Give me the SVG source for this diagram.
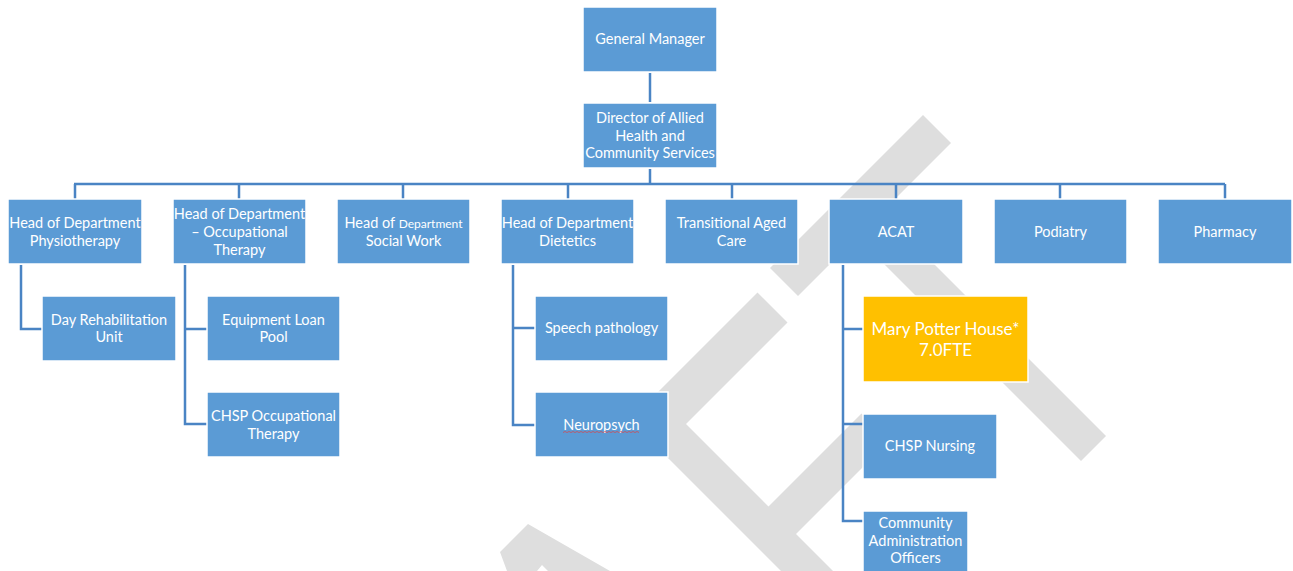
<svg xmlns="http://www.w3.org/2000/svg" width="1293" height="571" viewBox="0 0 1293 571">
<style>
.wm{fill:#dedede}
.box{fill:#5b9bd5;stroke:#ffffff;stroke-width:1.5}
.gold{fill:#ffc000;stroke:#ffffff;stroke-width:1.5}
.t{font-family:Lato,"Open Sans","Liberation Sans",sans-serif;font-size:14.5px;fill:#ffffff;text-anchor:middle}
.big{font-size:17px}
.sm{font-size:12px}
.con{fill:none;stroke:#4a84c4;stroke-width:2.5;stroke-linejoin:miter}
</style>
<rect width="1293" height="571" fill="#ffffff"/>
<g id="watermark">
<polygon class="wm" points="923,115 951,143 798,296 770,268"/>
<polygon class="wm" points="757.5,292.5 787.5,322.5 686,424 768.5,506.5 861.5,413.5 889,441 796,534 833,571 781,571 630,420"/>
<polygon class="wm" points="868,198 1106,436 1081,461 843,223"/>
<polygon class="wm" points="528,524 610,571 548,571 542,565 537,571 507,571 500,552"/>
</g>
<g id="connectors">
<path class="con" d="M650,73 V102"/>
<path class="con" d="M650,169 V184"/>
<path class="con" d="M74,184 H1225"/>
<path class="con" d="M75,184 V199 M239,184 V199 M403,184 V199 M568,184 V199 M732,184 V199 M896,184 V199 M1060,184 V199 M1225,184 V199"/>
<path class="con" d="M21,265 V329 H42"/>
<path class="con" d="M185,265 V424 H207 M185,329 H207"/>
<path class="con" d="M513,265 V425 H535 M513,328 H535"/>
<path class="con" d="M843,265 V521 H863 M843,329 H863 M843,424 H863"/>
</g>
<g id="general-manager">
<rect class="box" x="583" y="7" width="134" height="65"/>
<text class="t" x="650" y="44">General Manager</text>
</g>
<g id="director">
<rect class="box" x="583" y="103" width="134" height="65"/>
<text class="t" x="650" y="123">Director of Allied</text>
<text class="t" x="650" y="141">Health and</text>
<text class="t" x="650" y="158">Community Services</text>
</g>
<g id="hod-physio">
<rect class="box" x="8" y="199" width="134" height="65"/>
<text class="t" x="75" y="228">Head of Department</text>
<text class="t" x="75" y="246">Physiotherapy</text>
</g>
<g id="hod-ot">
<rect class="box" x="173" y="199" width="133" height="65"/>
<text class="t" x="239.5" y="219">Head of Department</text>
<text class="t" x="239.5" y="237">– Occupational</text>
<text class="t" x="239.5" y="255">Therapy</text>
</g>
<g id="hod-social-work">
<rect class="box" x="337" y="199" width="133" height="65"/>
<text class="t" x="403.5" y="228">Head of <tspan class="sm">Department</tspan></text>
<text class="t" x="403.5" y="246">Social Work</text>
</g>
<g id="hod-dietetics">
<rect class="box" x="501" y="199" width="133" height="65"/>
<text class="t" x="567.5" y="228">Head of Department</text>
<text class="t" x="567.5" y="246">Dietetics</text>
</g>
<g id="transitional-aged-care">
<rect class="box" x="665" y="199" width="133" height="65"/>
<text class="t" x="731.5" y="228">Transitional Aged</text>
<text class="t" x="731.5" y="246">Care</text>
</g>
<g id="acat">
<rect class="box" x="829" y="199" width="134" height="65"/>
<text class="t" x="896" y="237">ACAT</text>
</g>
<g id="podiatry">
<rect class="box" x="994" y="199" width="133" height="65"/>
<text class="t" x="1060.5" y="237">Podiatry</text>
</g>
<g id="pharmacy">
<rect class="box" x="1158" y="199" width="134" height="65"/>
<text class="t" x="1225" y="237">Pharmacy</text>
</g>
<g id="day-rehab">
<rect class="box" x="42" y="296" width="134" height="65"/>
<text class="t" x="109" y="325">Day Rehabilitation</text>
<text class="t" x="109" y="342">Unit</text>
</g>
<g id="equipment-loan-pool">
<rect class="box" x="207" y="296" width="133" height="65"/>
<text class="t" x="273.5" y="325">Equipment Loan</text>
<text class="t" x="273.5" y="342">Pool</text>
</g>
<g id="chsp-ot">
<rect class="box" x="207" y="392" width="133" height="65"/>
<text class="t" x="273.5" y="421">CHSP Occupational</text>
<text class="t" x="273.5" y="439">Therapy</text>
</g>
<g id="speech-pathology">
<rect class="box" x="535" y="296" width="133" height="65"/>
<text class="t" x="601.5" y="333">Speech pathology</text>
</g>
<g id="neuropsych">
<rect class="box" x="535" y="392" width="133" height="65"/>
<text class="t" x="601.5" y="430">Neuropsych</text>
<path d="M563,432.5 l2,-1 l2,1 l2,-1 l2,1 l2,-1 l2,1 l2,-1 l2,1 l2,-1 l2,1 l2,-1 l2,1 l2,-1 l2,1 l2,-1 l2,1 l2,-1 l2,1 l2,-1 l2,1 l2,-1 l2,1 l2,-1 l2,1 l2,-1 l2,1 l2,-1 l2,1 l2,-1 l2,1 l2,-1 l2,1 l2,-1 l2,1 l2,-1 l2,1 l2,-1 l2,1" fill="none" stroke="#e04040" stroke-width="0.7"/>
</g>
<g id="mary-potter-house">
<rect class="gold" x="863" y="296" width="165" height="86"/>
<text class="t big" x="945.5" y="335">Mary Potter House*</text>
<text class="t big" x="945.5" y="356">7.0FTE</text>
</g>
<g id="chsp-nursing">
<rect class="box" x="863" y="414" width="134" height="65"/>
<text class="t" x="930" y="451">CHSP Nursing</text>
</g>
<g id="community-admin-officers">
<rect class="box" x="863" y="511" width="105" height="70"/>
<text class="t" x="915.5" y="528">Community</text>
<text class="t" x="915.5" y="546">Administration</text>
<text class="t" x="915.5" y="563">Officers</text>
</g>
</svg>
